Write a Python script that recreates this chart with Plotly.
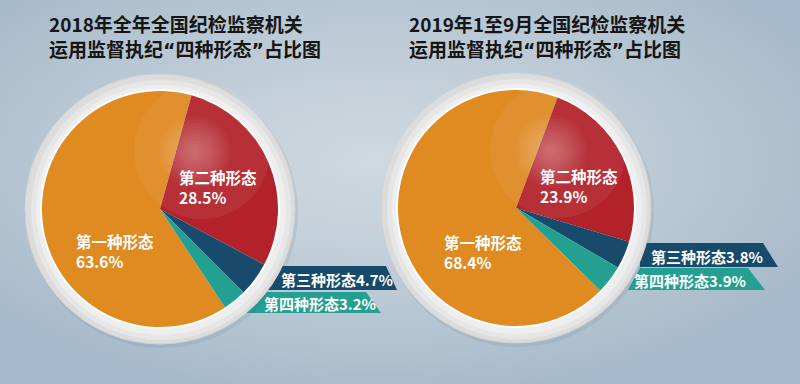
import plotly.graph_objects as go
import base64

# ---------------- data ----------------
categories = ["第一种形态", "第二种形态", "第三种形态", "第四种形态"]
values_2018 = [63.6, 28.5, 4.7, 3.2]
values_2019 = [68.4, 23.9, 3.8, 3.9]
title_lines = [["2018年全年全国纪检监察机关", "运用监督执纪“四种形态”占比图"],
               ["2019年1至9月全国纪检监察机关", "运用监督执纪“四种形态”占比图"]]
colors = ["#E08A22", "#B3222B", "#174A6B", "#23A091"]

W, H = 800, 384
FONT = "Noto Sans CJK SC"

# layout constants (pixel space, y downward)
pies = [
    dict(vals=values_2018, cx=160, cy=209, r=118, start2=15.5,
         in1=(75, 241), in2=(178, 177),
         rib3=[(255, 266), (386, 266), (397, 290), (255, 290)], t3=(337, 279),
         rib4=[(262, 292), (366, 292), (381, 313), (241, 313)], t4=(320, 303)),
    dict(vals=values_2019, cx=516, cy=208, r=118, start2=20.6,
         in1=(443, 242), in2=(539, 176),
         rib3=[(640, 243), (763, 243), (778, 267), (640, 267)], t3=(707, 256),
         rib4=[(640, 268), (748, 268), (765, 290), (628, 290)], t4=(690, 280)),
]
title_pos = [(47, 36), (407, 36)]

# background gradient as svg data uri
svg = f'''<svg xmlns="http://www.w3.org/2000/svg" width="{W}" height="{H}" preserveAspectRatio="none">
<defs><radialGradient id="g" cx="47%" cy="42%" r="62%">
<stop offset="0%" stop-color="#d0d9e0"/><stop offset="55%" stop-color="#bccad6"/>
<stop offset="100%" stop-color="#a7bacb"/></radialGradient></defs>
<rect width="{W}" height="{H}" fill="url(#g)"/></svg>'''
bg = "data:image/svg+xml;base64," + base64.b64encode(svg.encode()).decode()

fig = go.Figure()
shapes = []
annotations = []


def poly(pts):
    return "M " + " L ".join(f"{x},{y}" for x, y in pts) + " Z"


def circ(cx, cy, r, fill, layer="below", line=None, dx=0, dy=0):
    return dict(type="circle", xref="x", yref="y", x0=cx - r + dx, x1=cx + r + dx,
                y0=cy - r + dy, y1=cy + r + dy, fillcolor=fill,
                line=line or dict(width=0), layer=layer)


for p in pies:
    vals = p["vals"]
    tot = sum(vals)
    rot = p["start2"] + sum(vals[1:]) / tot * 360
    cx, cy, r = p["cx"], p["cy"], p["r"]
    # ribbons (under ring)
    shapes.append(dict(type="path", path=poly(p["rib3"]), xref="x", yref="y",
                       fillcolor=colors[2], line=dict(width=0), layer="below"))
    shapes.append(dict(type="path", path=poly(p["rib4"]), xref="x", yref="y",
                       fillcolor=colors[3], line=dict(width=0), layer="below"))
    # ring shadow + ring + white rim
    shapes.append(circ(cx, cy, 136, "rgba(70,90,110,0.10)", dx=2, dy=3))
    shapes.append(circ(cx, cy, 135, "#dcdcdc", line=dict(color="#d2d2d2", width=1)))
    shapes.append(circ(cx, cy, 130, "#e6e6e6", dx=1, dy=1))
    shapes.append(circ(cx, cy, 125, "#eeeeee", dx=1, dy=1))
    shapes.append(circ(cx, cy, r + 2, "#ffffff"))
    # gloss over pie
    shapes.append(circ(cx + 42, cy - 58, 68, "rgba(255,255,255,0.06)", layer="above"))
    for k in range(10):
        rr = 36 - k * 3.5
        shapes.append(circ(cx + 35, cy - 57, rr, "rgba(255,255,255,0.035)", layer="above"))
    fig.add_trace(go.Pie(
        labels=categories, values=vals, sort=False, direction="clockwise",
        rotation=rot, marker=dict(colors=colors, line=dict(width=0)),
        textinfo="none", hoverinfo="label+percent", showlegend=False,
        domain=dict(x=[(cx - r) / W, (cx + r) / W], y=[(H - cy - r) / H, (H - cy + r) / H]),
    ))
    # inside labels
    for idx, key in ((0, "in1"), (1, "in2")):
        x, y = p[key]
        annotations.append(dict(x=x - 1, y=y + 10, xref="x", yref="y",
                                text=f"<b>{categories[idx]}<br>{vals[idx]}%</b>",
                                showarrow=False, xanchor="left", yanchor="middle", align="left",
                                font=dict(family=FONT, size=15.5, color="white")))
    for idx, key in ((2, "t3"), (3, "t4")):
        x, y = p[key]
        annotations.append(dict(x=x, y=y, xref="x", yref="y", text=f"<b>{categories[idx]}{vals[idx]}%</b>",
                                showarrow=False, xanchor="center", yanchor="middle",
                                font=dict(family=FONT, size=15, color="white")))


def narrow_quotes(s):
    q = '<span style="font-family:DejaVu Sans">{}</span>'
    return s.replace("“", q.format("“")).replace("”", q.format("”"))


for lines, (x, y) in zip(title_lines, title_pos):
    annotations.append(dict(x=x, y=y, xref="x", yref="y",
                            text="<b>" + "<br>".join(narrow_quotes(l) for l in lines) + "</b>",
                            showarrow=False, xanchor="left", yanchor="middle", align="left",
                            font=dict(family=FONT, size=19, color="#161616")))

fig.update_layout(
    width=W, height=H, margin=dict(l=0, r=0, t=0, b=0),
    paper_bgcolor="#bccad6", plot_bgcolor="rgba(0,0,0,0)",
    xaxis=dict(range=[0, W], visible=False, fixedrange=True),
    yaxis=dict(range=[H, 0], visible=False, fixedrange=True),
    shapes=shapes, annotations=annotations,
    images=[dict(source=bg, xref="paper", yref="paper", x=0, y=1, sizex=1, sizey=1,
                 sizing="stretch", layer="below", xanchor="left", yanchor="top")],
)
fig.write_html("out.html", config={"displayModeBar": False},
               post_script="document.body.style.margin='0';document.body.style.background='#bccad6';")
